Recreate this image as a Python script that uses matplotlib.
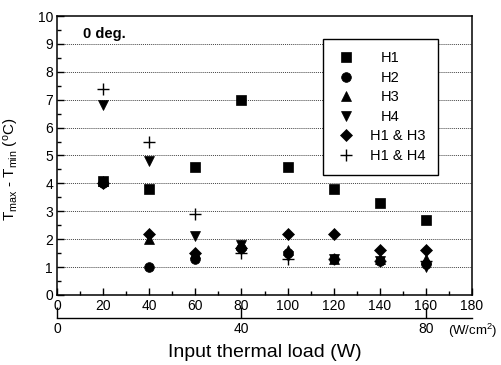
import matplotlib
matplotlib.use('Agg')
import matplotlib.pyplot as plt
from matplotlib.ticker import MultipleLocator

plt.rcParams.update({
    'font.family': ['Liberation Sans', 'DejaVu Sans'],
    'font.size': 10,
    'mathtext.fontset': 'custom',
    'mathtext.rm': 'Liberation Sans',
    'mathtext.it': 'Liberation Sans',
})

# Input thermal load (W)
loads = [20, 40, 60, 80, 100, 120, 140, 160]

# T_max - T_min (deg C) for each heater configuration
h1 = [4.1, 3.8, 4.6, 7.0, 4.6, 3.8, 3.3, 2.7]
h2 = [4.0, 1.0, 1.3, 1.7, 1.5, 1.3, 1.2, 1.1]
h3 = [4.1, 2.0, 1.5, 1.8, 1.6, 1.3, 1.3, 1.3]
h4 = [6.8, 4.8, 2.1, 1.8, 1.4, 1.3, 1.2, 1.0]
h13 = [4.0, 2.2, 1.5, 1.7, 2.2, 2.2, 1.6, 1.6]
h14 = [7.4, 5.5, 2.9, 1.5, 1.3, 1.3, 1.2, 1.2]

series = [
    (h1, 's', 'H1', 7),
    (h2, 'o', 'H2', 7),
    (h3, '^', 'H3', 7.5),
    (h4, 'v', 'H4', 7.5),
    (h13, 'D', 'H1 & H3', 6),
    (h14, '+', 'H1 & H4', 8),
]

flux_ticks = [0, 40, 80]  # W/cm^2

fig = plt.figure(figsize=(5.01, 3.65), dpi=100)
ax = fig.add_axes([0.114, 0.192, 0.828, 0.764])

for vals, mk, lab, ms in series:
    ax.plot(loads, vals, linestyle='none', marker=mk, color='black',
            markersize=ms, markeredgewidth=1.0 if mk == '+' else 0.5, label=lab)

ax.set_xlim(0, 180)
ax.set_ylim(0, 10)
ax.xaxis.set_major_locator(MultipleLocator(20))
ax.xaxis.set_minor_locator(MultipleLocator(10))
ax.yaxis.set_major_locator(MultipleLocator(1))
ax.yaxis.set_minor_locator(MultipleLocator(0.5))
ax.tick_params(which='both', direction='in', top=False, right=False, width=1)
ax.tick_params(which='major', length=5, pad=3)
ax.tick_params(which='minor', length=3)
for s in ax.spines.values():
    s.set_linewidth(1.1)

# dotted horizontal grid lines
for yv in range(1, 10):
    ax.axhline(yv, color='#444444', linestyle=(0, (1, 1)), linewidth=0.7, zorder=0)

ax.set_ylabel(r'T$_{\rm max}$ - T$_{\rm min}$ ($^{\rm o}$C)', fontsize=11)
ax.yaxis.set_label_coords(-0.088, 0.45)
ax.text(0.062, 0.96, '0 deg.', transform=ax.transAxes, fontsize=10.5,
        fontweight='bold', va='top', ha='left')

leg = ax.legend(loc='upper left', bbox_to_anchor=(0.641, 0.918), frameon=True,
                fancybox=False, edgecolor='black', framealpha=1, fontsize=10.5,
                handlelength=1.4, handletextpad=0.95, labelspacing=0.38,
                borderpad=0.85, borderaxespad=0)
leg.get_frame().set_linewidth(1.0)

# nudge the short labels toward the middle of the text column
fig.canvas.draw()
renderer = fig.canvas.get_renderer()
texts = leg.get_texts()
widths = [t.get_window_extent(renderer).width for t in texts]
wmax = max(widths)
for t, w in zip(texts, widths):
    t.set_x(0.3 * (wmax - w))

# secondary axis: heat flux (W/cm^2)
sec = ax.secondary_xaxis(-0.082, functions=(lambda x: x / 2, lambda x: x * 2))
sec.set_xticks(flux_ticks)
sec.tick_params(direction='in', length=8, width=1, pad=3)
sec.spines['bottom'].set_linewidth(1.0)
sec.set_xlabel('Input thermal load (W)', fontsize=14, labelpad=6)
ax.text(0.942, -0.128, r'(W/cm$^{2}$)', transform=ax.transAxes, fontsize=9.5,
        ha='left', va='center')

fig.savefig('out.png', dpi=100)
